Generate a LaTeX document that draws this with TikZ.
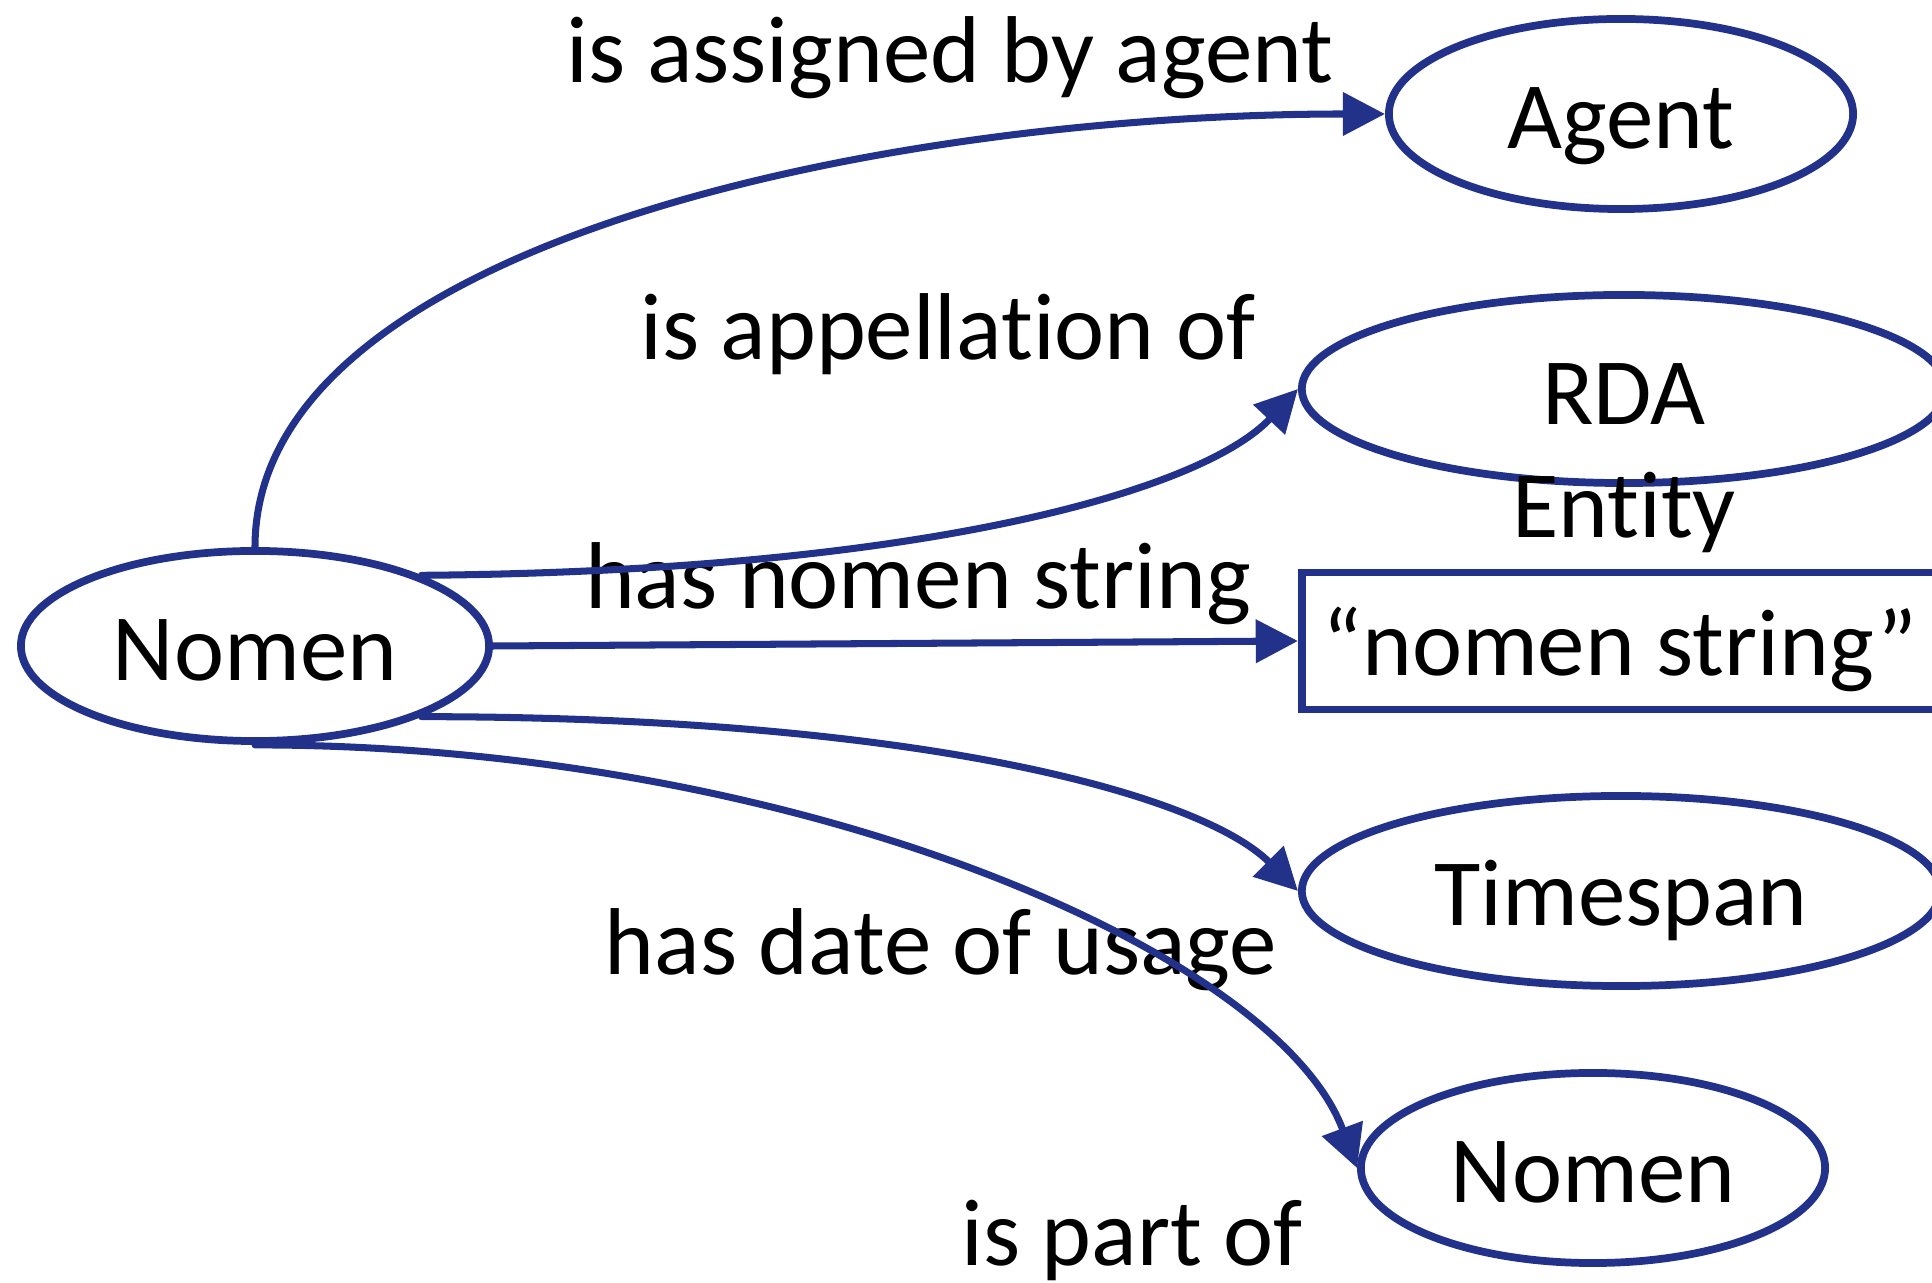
\documentclass[tikz,border=0pt]{standalone}
\usepackage{fontspec}
\setmainfont{Carlito}[Ligatures=NoCommon]
\usepackage{tikz}
\usetikzlibrary{arrows.meta,shapes.geometric}
\definecolor{navy}{HTML}{22328A}
\tikzset{
  big/.style={font=\fontsize{27}{32.4}\selectfont},
  ent/.style={big, ellipse, draw=navy, line width=2.2pt, inner sep=0pt,
    minimum width=4.64cm, minimum height=1.9cm, text height=0.68cm, text depth=0pt},
  strbox/.style={big, rectangle, draw=navy, line width=2.2pt, inner sep=0pt,
    text height=0.68cm, text depth=0pt},
  rel/.style={draw=navy, line width=2pt, line cap=round,
    -{Triangle[length=12pt,width=12pt]}},
  lab/.style={big, anchor=base, inner sep=0pt},
}

\begin{document}
\begin{tikzpicture}[x=0.01cm, y=-0.01cm]
  \useasboundingbox (0,0) rectangle (1932,1283);
  \clip (0,0) rectangle (1932,1283);

  % classes
  \node[ent, minimum width=4.68cm] (nomen) at (255,646) {Nomen};
  \node[ent] (agent) at (1621,114) {Agent};
  \node[ent, minimum width=6.44cm, minimum height=1.88cm] (rda) at (1624,389) {};
  \node[lab, align=center] (rdatxt) at (1624,538) {RDA\\Entity};
  \node[strbox, minimum width=6.36cm, minimum height=1.37cm] (nstr) at (1620,641) {“nomen string”};
  \node[ent, minimum width=6.38cm] (time) at (1621,891) {Timespan};
  \node[ent] (part) at (1593,1168) {Nomen};

  % relationship labels
  \node[lab] (lassign) at (950,83) {is assigned by agent};
  \node[lab] (lappel) at (948,360) {is appellation of};
  \node[lab] (lnstr) at (918,609) {has nomen string};
  \node[lab] (ldate) at (941,975) {has date of usage};
  \node[lab] (lpart) at (1132,1266) {is part of};

  % relationships
  \draw[rel] (nomen.north) .. controls +(0,-305) and +(-496,0) .. (agent.west);
  \draw[rel] (nomen.23) .. controls +(505,-4) and +(-95,101) .. (rda.west);
  \draw[rel] (nomen.east) -- (nstr.west);
  \draw[rel] (nomen.-23) .. controls +(505,0) and +(-95,-95) .. (time.west);
  \draw[rel] (nomen.south) .. controls +(546,0) and +(-80,-215) .. (part.west);
\end{tikzpicture}
\end{document}
